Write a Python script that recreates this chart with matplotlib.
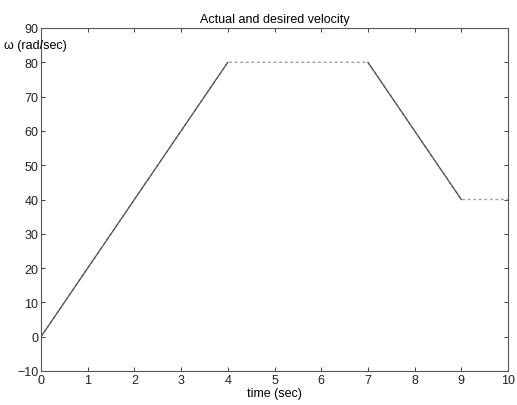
import numpy as np
import matplotlib.pyplot as plt

plt.rcParams['font.family'] = ['Liberation Sans', 'DejaVu Sans']

# velocity profile (rad/sec) against time (sec)
time = [0, 4, 7, 9, 10]
omega = [0, 80, 80, 40, 40]
xticks = [0, 1, 2, 3, 4, 5, 6, 7, 8, 9, 10]
yticks = [-10, 0, 10, 20, 30, 40, 50, 60, 70, 80, 90]

fig = plt.figure(figsize=(5.17, 4.06), dpi=100)
ax = fig.add_axes([41/517, 1 - 372/406, 467/517, 343/406])

t = np.array(time, dtype=float)
w = np.array(omega, dtype=float)

# desired: full profile, light dotted
ax.plot(t, w, color='#a0a0a0', lw=1.0, ls=(0, (2, 2)))
# actual: follows the ramps, drawn solid
for i in range(len(t) - 1):
    if w[i] != w[i + 1]:
        ax.plot(t[i:i + 2], w[i:i + 2], color='#505050', lw=0.9)

ax.set_xlim(0, 10)
ax.set_ylim(-10, 90)
ax.set_xticks(xticks)
ax.set_yticks(yticks)
ax.tick_params(direction='in', top=True, right=True, length=3, width=0.6,
               labelsize=9, pad=2, colors='#222222')
for s in ax.spines.values():
    s.set_linewidth(0.8)
    s.set_color('#555555')

ax.set_title('Actual and desired velocity', fontsize=9, pad=4)
ax.set_xlabel('time (sec)', fontsize=9, labelpad=1)
fig.text(4/517, 1 - 46/406, '\u03c9 (rad/sec)', fontsize=9, va='center', ha='left')

fig.savefig('out.png', dpi=100)
